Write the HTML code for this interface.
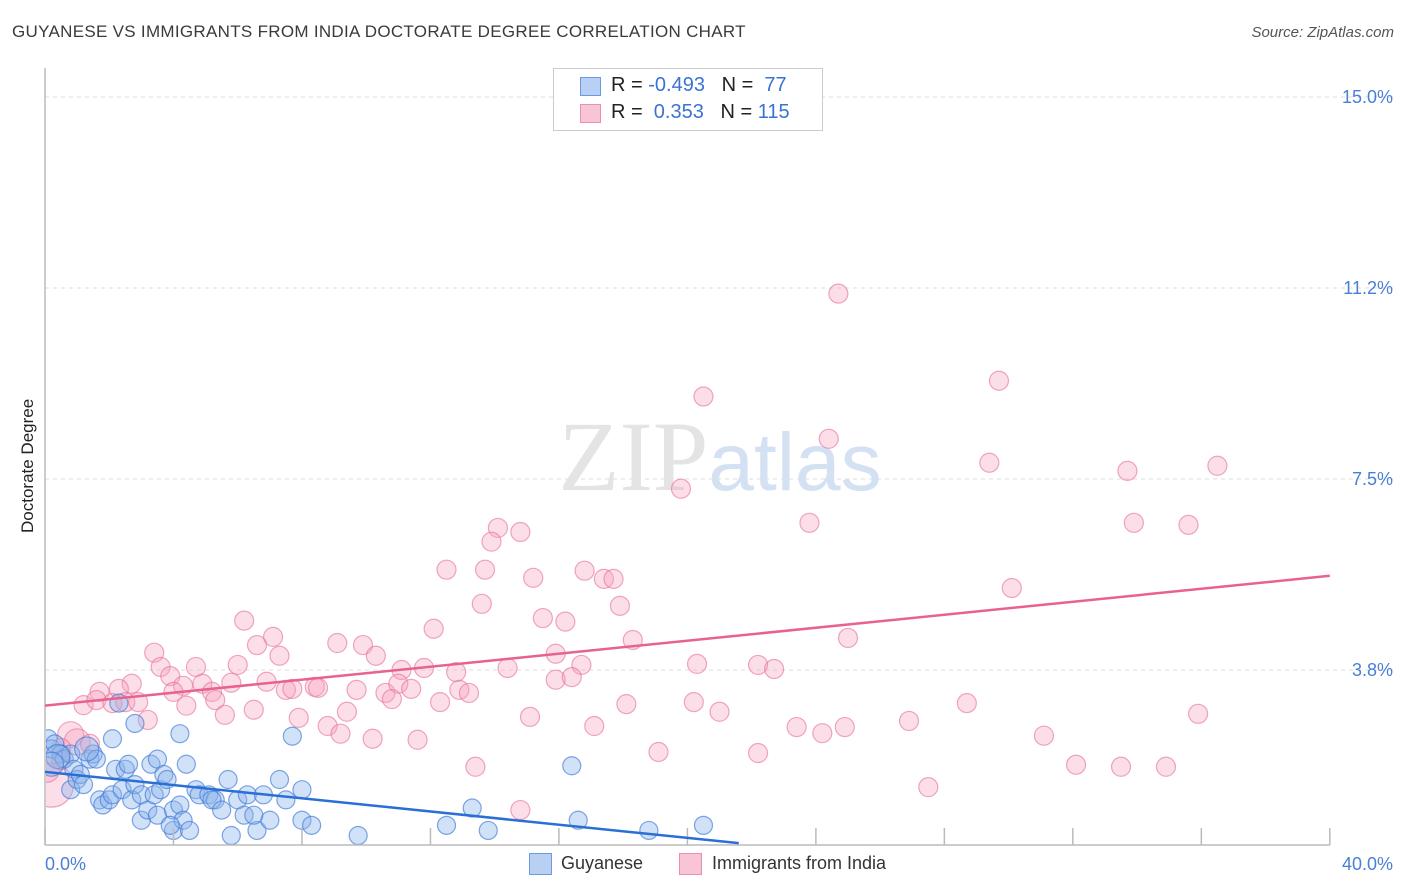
<!DOCTYPE html>
<html><head><meta charset="utf-8"><style>
body{margin:0;background:#fff;font-family:"Liberation Sans",sans-serif;}
#wrap{position:relative;width:1406px;height:892px;overflow:hidden;}
.t{position:absolute;white-space:nowrap;}
</style></head><body>
<div id="wrap">
<div class="t" style="left:12px;top:22px;font-size:17px;color:#3a3a3a;letter-spacing:0.3px">GUYANESE VS IMMIGRANTS FROM INDIA DOCTORATE DEGREE CORRELATION CHART</div>
<div class="t" style="right:12px;top:24px;font-size:15px;color:#555;font-style:italic">Source: ZipAtlas.com</div>
<div class="t" style="left:18px;top:533px;font-size:17px;color:#222;transform:rotate(-90deg);transform-origin:0 0">Doctorate Degree</div>
<svg id="svg" width="1406" height="892" style="position:absolute;left:0;top:0"><defs><clipPath id="pc"><rect x="46" y="60" width="1360" height="785"/></clipPath></defs><g id="g" clip-path="url(#pc)"></g></svg>
<div class="t" style="left:553px;top:68px;width:268px;height:61px;border:1px solid #ccc;background:#fff">
 <div style="position:absolute;left:26px;top:8px;width:19px;height:17px;background:#b7d0f3;border:1px solid #6a9be0"></div>
 <div style="position:absolute;left:57px;top:5px;font-size:20px;color:#222">R = <span style="color:#3b73d0">-0.493</span>&nbsp;&nbsp;&nbsp;N = <span style="color:#3b73d0">&nbsp;77</span></div>
 <div style="position:absolute;left:26px;top:35px;width:19px;height:17px;background:#f8c5d5;border:1px solid #ec8fae"></div>
 <div style="position:absolute;left:57px;top:32px;font-size:20px;color:#222">R = &nbsp;<span style="color:#3b73d0">0.353</span>&nbsp;&nbsp;&nbsp;N = <span style="color:#3b73d0">115</span></div>
</div>
<div class="t" style="left:529px;top:853px;width:21px;height:20px;background:#b7d0f3;border:1px solid #6a9be0"></div>
<div class="t" style="left:561px;top:853px;font-size:18px;color:#333">Guyanese</div>
<div class="t" style="left:679px;top:853px;width:21px;height:20px;background:#f8c5d5;border:1px solid #ec8fae"></div>
<div class="t" style="left:712px;top:853px;font-size:18px;color:#333">Immigrants from India</div>
</div>
<script>
const yTicks=[15.0,11.25,7.5,3.75];
const yTickLabels=["15.0%","11.2%","7.5%","3.8%"];
const xTicks=[0,4,8,12,16,20,24,28,32,36,40];
const blueX=[0.1,0.2,0.3,0.5,0.6,0.8,0.8,0.9,1.0,1.1,1.2,1.4,1.5,1.6,1.7,1.8,2.0,2.1,2.1,2.2,2.4,2.5,2.6,2.7,2.8,2.8,3.0,3.0,3.2,3.3,3.4,3.5,3.5,3.6,3.7,3.8,4.0,4.0,4.2,4.4,4.2,4.3,4.5,4.7,4.8,5.1,5.3,5.2,5.5,5.8,5.7,6.0,6.2,6.3,6.6,6.8,7.0,7.3,7.5,8.0,7.7,8.3,8.0,9.75,13.3,12.5,13.8,16.4,16.6,18.8,20.5,2.3,1.3,0.4,0.2,3.9,6.5];
const blueY=[2.4,2.2,2.3,2.1,2.0,2.1,1.4,1.8,1.6,1.7,1.5,2.0,2.1,2.0,1.2,1.1,1.2,1.3,2.4,1.8,1.4,1.8,1.9,1.2,2.7,1.5,1.3,0.8,1.0,1.9,1.3,0.9,2.0,1.4,1.7,1.6,1.0,0.6,1.1,1.9,2.5,0.8,0.6,1.4,1.3,1.3,1.2,1.2,1.0,0.5,1.6,1.2,0.9,1.3,0.6,1.3,0.8,1.6,1.2,0.8,2.45,0.7,1.4,0.5,1.04,0.7,0.6,1.87,0.8,0.6,0.7,3.1,2.2,2.05,1.9,0.7,0.9];
const pinkX=[24.7,29.7,20.5,24.4,29.4,36.5,33.7,19.8,23.8,33.9,35.6,14.1,14.8,13.9,12.5,13.7,16.8,15.2,17.4,17.7,30.1,13.6,17.9,15.5,16.2,6.2,12.1,7.1,18.3,25.0,9.1,9.9,6.6,3.4,10.3,7.3,15.9,3.6,4.7,6.0,20.3,22.2,22.7,16.7,11.1,11.8,12.8,14.4,3.9,2.7,4.3,4.9,5.8,6.9,1.7,2.3,4.0,5.2,7.5,7.7,8.4,8.5,9.7,10.6,11.0,11.4,10.8,12.9,13.2,15.9,16.4,1.2,1.6,2.1,2.5,2.9,5.3,4.4,6.5,9.4,12.3,18.1,20.2,21.0,28.7,35.9,5.6,3.2,7.9,8.8,15.1,17.1,23.4,26.9,9.2,10.2,11.6,24.2,24.9,31.1,19.1,22.2,13.4,32.1,33.5,34.9,27.5,14.8,0.8,1.0,0.5,0.2,0.05,0.5,1.4];
const pinkY=[11.14,9.43,9.12,8.29,7.82,7.76,7.66,7.31,6.64,6.64,6.6,6.54,6.46,6.27,5.72,5.72,5.7,5.56,5.54,5.54,5.36,5.05,5.01,4.77,4.7,4.72,4.56,4.4,4.34,4.38,4.28,4.24,4.24,4.09,4.03,4.03,4.07,3.81,3.81,3.85,3.87,3.85,3.77,3.85,3.75,3.79,3.71,3.79,3.63,3.48,3.44,3.48,3.5,3.52,3.32,3.38,3.32,3.32,3.36,3.38,3.42,3.4,3.36,3.3,3.48,3.38,3.18,3.36,3.3,3.56,3.61,3.06,3.16,3.1,3.12,3.12,3.16,3.05,2.97,2.93,3.12,3.08,3.12,2.93,3.1,2.89,2.87,2.77,2.81,2.65,2.83,2.65,2.63,2.75,2.5,2.4,2.38,2.51,2.63,2.46,2.14,2.12,1.85,1.89,1.85,1.85,1.45,1.0,2.48,2.34,2.22,1.49,1.8,1.98,2.3];
const pinkBig=[108,109,111,112];
const blueTrend=[[0,1.75],[21.6,0.35]];
const pinkTrend=[[0,3.05],[40,5.6]];
const X=v=>45+v*32.12, Y=v=>861-v*50.93;
const svg=document.getElementById('svg');const G=document.getElementById('g');const NS='http://www.w3.org/2000/svg';
function mk(t,a,p){const e=document.createElementNS(NS,t);for(const k in a)e.setAttribute(k,a[k]);(p||svg).appendChild(e);return e;}
yTicks.forEach((v,i)=>{const g=mk('line',{x1:45,x2:1395,y1:Y(v),y2:Y(v),stroke:'#ddd','stroke-dasharray':'4,4'});


const t=mk('text',{x:1393,y:Y(v)+6,'text-anchor':'end','font-size':18,fill:'#4a7fd6','font-family':'Liberation Sans'});t.textContent=yTickLabels[i];

});
const wm=mk('text',{x:720,y:490,'text-anchor':'middle','font-size':100,fill:'#e4e4e4','font-family':'Liberation Serif'});wm.innerHTML='ZIP<tspan fill="#d3e1f3" font-family="Liberation Sans" font-size="82">atlas</tspan>';


svg.appendChild(G);
let ax=mk('line',{x1:45,x2:45,y1:68,y2:845,stroke:'#bbb','stroke-width':1.5});


ax=mk('line',{x1:45,x2:1330,y1:845,y2:845,stroke:'#bbb','stroke-width':1.5});


xTicks.forEach(v=>{const l=mk('line',{x1:X(v),x2:X(v),y1:828,y2:845,stroke:'#bbb','stroke-width':1.5});

});
[[0,'0.0%',45,'start'],[40,'40.0%',1393,'end']].forEach(d=>{const t=mk('text',{x:d[2],y:870,'text-anchor':d[3],'font-size':18,fill:'#4a7fd6','font-family':'Liberation Sans'});t.textContent=d[1];

});
pinkX.forEach((v,i)=>{const c=mk('circle',{cx:X(v),cy:Y(pinkY[i]),r:pinkBig.includes(i)?(i===111?22:13):9.5,fill:'rgba(245,160,188,0.35)',stroke:'rgba(230,110,150,0.6)','stroke-width':1.2},G);

});
blueX.forEach((v,i)=>{const c=mk('circle',{cx:X(v),cy:Y(blueY[i]),r:i>=72&&i<=74?12:9,fill:'rgba(140,180,235,0.4)',stroke:'rgba(60,120,215,0.65)','stroke-width':1.2},G);

});
let tl=mk('line',{x1:X(pinkTrend[0][0]),y1:Y(pinkTrend[0][1]),x2:X(pinkTrend[1][0]),y2:Y(pinkTrend[1][1]),stroke:'#e8628e','stroke-width':2.5});


tl=mk('line',{x1:X(blueTrend[0][0]),y1:Y(blueTrend[0][1]),x2:X(blueTrend[1][0]),y2:Y(blueTrend[1][1]),stroke:'#2a6fd6','stroke-width':2.5});


</script>
</body></html>
